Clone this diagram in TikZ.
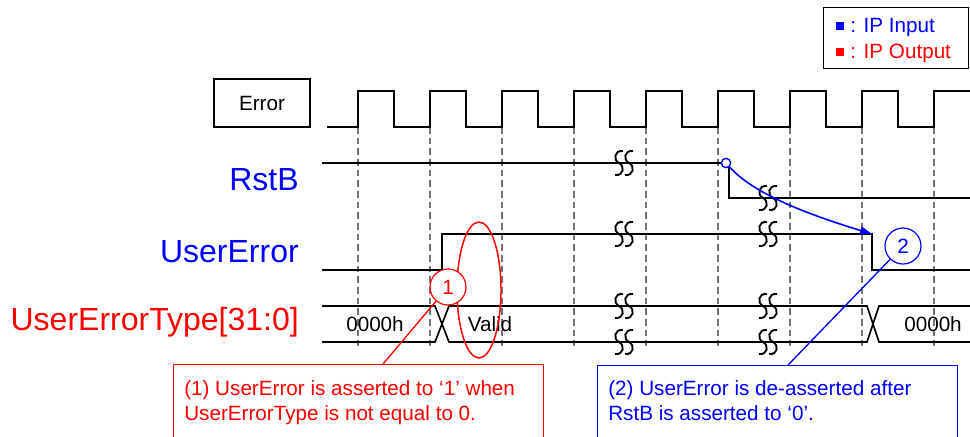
\documentclass[tikz,border=0pt]{standalone}
\usepackage{fontspec}
\setmainfont{Liberation Sans}
\usetikzlibrary{arrows.meta,shapes.geometric}
\begin{document}
\begin{tikzpicture}[x=0.75pt,y=-0.75pt,
  sig/.style={line width=1.25pt, black},
  gridline/.style={black!55, line width=0.9pt, dash pattern=on 5pt off 3pt},
  lab/.style={font=\fontsize{15.5}{18.75}\selectfont},
  big/.style={font=\fontsize{24}{28}\selectfont, inner sep=0pt},
  brk/.pic={
    \draw[line width=1.4pt] (-1,-12) .. controls (-10,-13) and (-11,-3) .. (-5,0) .. controls (1,3) and (0,13) .. (-9,12);
    \draw[line width=1.4pt] (9,-12) .. controls (0,-13) and (-1,-3) .. (5,0) .. controls (11,3) and (10,13) .. (1,12);
  },
  callout/.style={line width=1pt, minimum height=72pt, anchor=north west, inner sep=0pt},
  numcirc/.style={circle, fill=white, line width=0.9pt, minimum size=27pt, inner sep=0pt, font=\fontsize{15.5}{18.75}\selectfont}
]
\useasboundingbox (0,0) rectangle (970,436);
\clip (0,0) rectangle (970,436);

% legend
\node[draw, line width=0.9pt, minimum width=108.75pt, minimum height=45.75pt, anchor=north west, inner sep=0pt] (leg) at (823,7) {};
\fill[blue] (836,22) rectangle (844,30);
\fill[red] (836,48) rectangle (844,56);
\node[anchor=base west, inner sep=0pt, lab, text=blue] (lin) at (850,32) {: IP Input};
\node[anchor=base west, inner sep=0pt, lab, text=red] (lout) at (850,58) {: IP Output};

% signal names
\node[draw, line width=0.9pt, minimum width=72pt, minimum height=36pt, lab] (err) at (262,103) {Error};
\node[big, anchor=base east, text=blue] (lrst) at (299,190) {RstB};
\node[big, anchor=base east, text=blue] (luerr) at (299,262) {UserError};
\node[big, anchor=base east, text=red] (ltype) at (299,330) {UserErrorType[31:0]};

% dashed guides
\foreach \i in {0,...,8} \draw[gridline] ({358+72*\i},127) -- ({358+72*\i},346);

% clock
\draw[sig] (327,127) foreach \i in {0,...,7} { -- ({358+72*\i},127) -- ({358+72*\i},91) -- ({394+72*\i},91) -- ({394+72*\i},127) } -- (934,127) -- (934,91) -- (970,91);

% RstB
\draw[sig] (322,163) -- (729,163) -- (729,198) -- (970,198);
% UserError
\draw[sig] (322,270) -- (442,270) -- (442,234) -- (872,234) -- (872,270) -- (970,270);
% UserErrorType bus
\draw[sig] (322,306) -- (435,306) -- (449,342) -- (867,342) -- (879,306) -- (970,306);
\draw[sig] (322,342) -- (435,342) -- (449,306) -- (867,306) -- (879,342) -- (970,342);

\foreach \p in {(624,163),(768,198),(624,234),(768,234),(624,306),(768,306),(624,342),(768,342)} \pic at \p {brk};

\node[lab] (v0) at (375,324) {0000h};
\node[lab] (v1) at (490,324) {Valid};
\node[lab] (v2) at (933,324) {0000h};

% annotation (2) arrow
\node[circle, draw=blue, fill=white, line width=1pt, minimum size=7pt, inner sep=0pt] (rc) at (726,163) {};
\coordinate (ue) at (872,234);
\draw[blue, line width=1.2pt, -{Triangle[length=9pt,width=6pt]}] (rc) .. controls (752,192) and (800,212) .. (ue);

% annotation (1)
\node[ellipse, draw=red, line width=1.1pt, minimum width=33pt, minimum height=102pt, inner sep=0pt] (ell) at (479,290) {};
\node[numcirc, draw=red, text=red] (c1) at (448,287) {1};
\node[numcirc, draw=blue, text=blue] (c2) at (903,246) {2};

% callout boxes
\node[callout, draw=red, minimum width=277.5pt] (b1) at (173,364) {};
\coordinate (t1) at (383,364);
\draw[red, line width=1pt] (c1) -- (t1);
\node[anchor=base west, align=left, text=red, lab, inner sep=0pt] (tx1) at (184,420) {(1) UserError is asserted to ‘1’ when\\UserErrorType is not equal to 0.};

\node[callout, draw=blue, minimum width=270pt] (b2) at (597,365) {};
\coordinate (t2) at (788,365);
\draw[blue, line width=1pt] (c2) -- (t2);
\node[anchor=base west, align=left, text=blue, lab, inner sep=0pt] (tx2) at (608,420) {(2) UserError is de-asserted after\\RstB is asserted to ‘0’.};
\end{tikzpicture}
\end{document}
